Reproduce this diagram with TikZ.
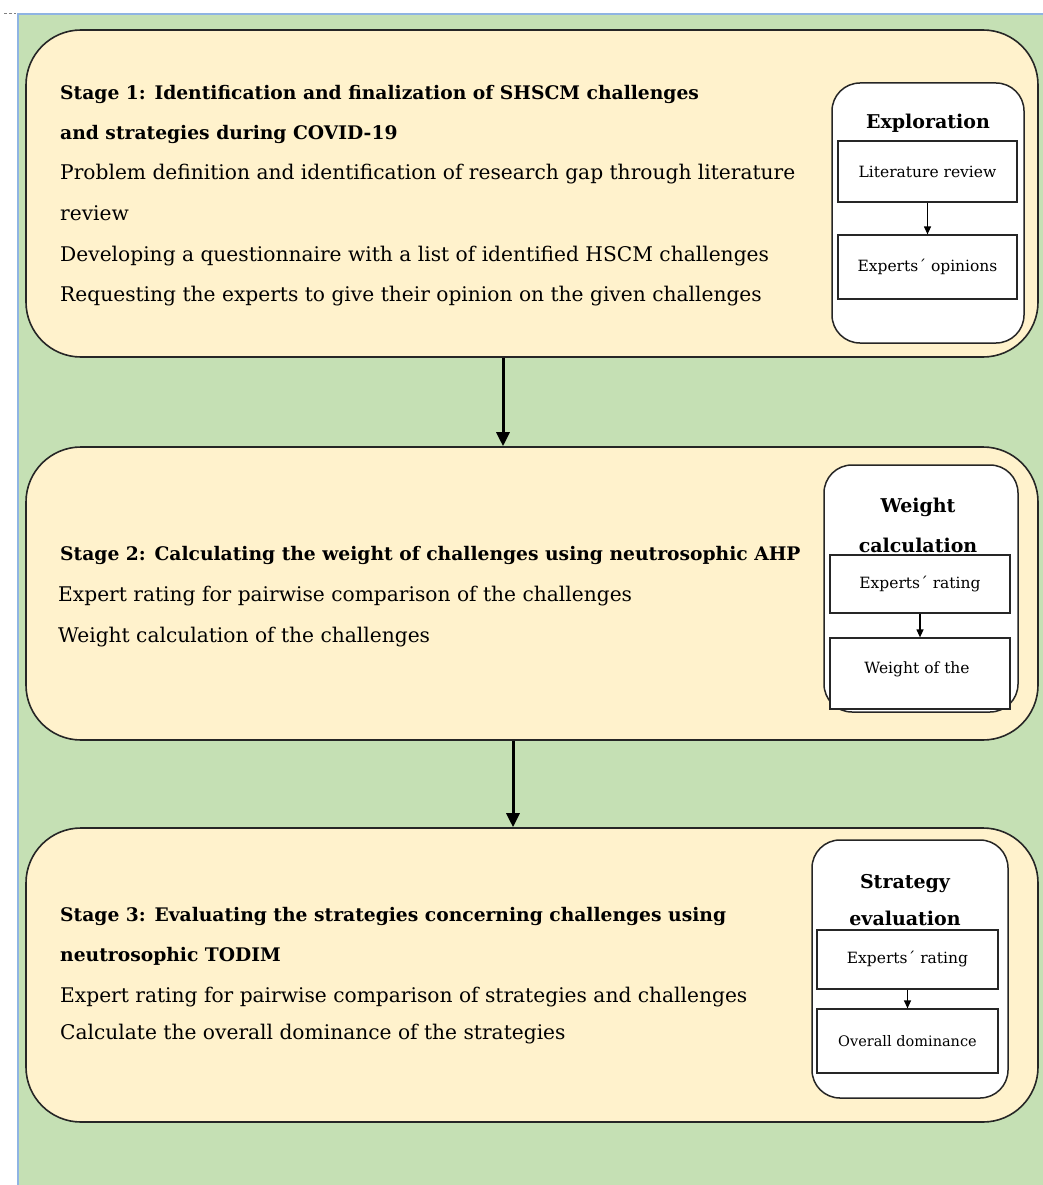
\documentclass[tikz,border=0pt]{standalone}
\usepackage{fontspec}
\setmainfont{DejaVu Serif}
\usetikzlibrary{arrows.meta,calc}
\definecolor{bggreen}{RGB}{197,224,180}
\definecolor{cream}{RGB}{255,242,204}
\definecolor{edgeblue}{RGB}{143,180,227}
\tikzset{
  stagebox/.style={draw=black!85, line width=1.6pt, fill=cream, rounded corners=55pt, minimum width=1012pt, inner sep=0pt},
  sidebox/.style={draw=black!85, line width=1.5pt, fill=white, rounded corners=28pt, inner sep=0pt},
  stepbox/.style={draw=black!85, line width=1.2pt, fill=white, inner sep=0pt, font=\fontsize{15.5}{18}\selectfont},
  bigarrow/.style={line width=3pt, -{Triangle[length=14pt,width=13pt]}},
  smallarrow/.style={line width=1.2pt, -{Triangle[length=8pt,width=7pt]}},
  headtxt/.style={anchor=base west, inner sep=0pt, font=\fontsize{18.7}{25}\selectfont\bfseries},
  bodytxt/.style={anchor=base west, inner sep=0pt, font=\fontsize{20.2}{25}\selectfont},
  sidetitle/.style={anchor=base, inner sep=0pt, font=\fontsize{19}{25}\selectfont\bfseries},
}
\begin{document}
\begin{tikzpicture}[x=1pt,y=-1pt]
\useasboundingbox (0,0) rectangle (1043,1185);
\fill[bggreen] (18,14) rectangle (1043,1185);
\draw[edgeblue, line width=1.5pt] (18,1185) -- (18,14) -- (1043,14);
\draw[gray, line width=1pt, dash pattern=on 3pt off 2pt] (4,14) -- (16,14);

% stage boxes
\node[stagebox, minimum height=327pt] (s1) at (532,193.5) {};
\node[stagebox, minimum height=293pt] (s2) at (532,593.5) {};
\node[stagebox, minimum height=294pt] (s3) at (532,975) {};

\coordinate (a1) at (503,0);
\coordinate (a2) at (513,0);
\draw[bigarrow] (a1 |- s1.south) -- (a1 |- s2.north);
\draw[bigarrow] (a2 |- s2.south) -- (a2 |- s3.north);

% stage 1 text
\node[headtxt] (t11) at (60,100) {Stage 1: Identification and finalization of SHSCM challenges};
\node[headtxt] (t12) at (60,140) {and strategies during COVID-19};
\node[bodytxt] (t13) at (60,180) {Problem definition and identification of research gap through literature};
\node[bodytxt] (t14) at (60,220) {review};
\node[bodytxt] (t15) at (60,261) {Developing a questionnaire with a list of identified HSCM challenges};
\node[bodytxt] (t16) at (60,301) {Requesting the experts to give their opinion on the given challenges};

% stage 2 text
\node[headtxt] (t21) at (60,560) {Stage 2: Calculating the weight of challenges using neutrosophic AHP};
\node[bodytxt] (t22) at (58,601) {Expert rating for pairwise comparison of the challenges};
\node[bodytxt] (t23) at (58,642) {Weight calculation of the challenges};

% stage 3 text
\node[headtxt] (t31) at (60,921) {Stage 3: Evaluating the strategies concerning challenges using};
\node[headtxt] (t32) at (60,961) {neutrosophic TODIM};
\node[bodytxt] (t33) at (60,1002) {Expert rating for pairwise comparison of strategies and challenges};
\node[bodytxt] (t34) at (60,1039) {Calculate the overall dominance of the strategies};

% exploration
\node[sidebox, minimum width=192pt, minimum height=260pt] (e0) at (928,213) {};
\node[sidetitle] (et) at (928,129) {Exploration};
\node[stepbox, minimum width=179pt, minimum height=61pt] (e1) at (927.5,171.5) {Literature review};
\node[stepbox, minimum width=179pt, minimum height=64pt] (e2) at (927.5,267) {Experts´ opinions};
\draw[smallarrow] (e1.south) -- (e2.north);

% weight calculation
\node[sidebox, minimum width=194pt, minimum height=247pt] (w0) at (921,588.5) {};
\node[sidetitle] (wt1) at (918,512) {Weight};
\node[sidetitle] (wt2) at (918,552) {calculation};
\node[stepbox, minimum width=180pt, minimum height=58pt] (w1) at (920,584) {Experts´ rating};
\node[stepbox, minimum width=180pt, minimum height=71pt] (w2) at (920,673.5) {};
\node[inner sep=0pt, anchor=base, font=\fontsize{15.5}{18}\selectfont] (w2t) at (917,673) {Weight of the};
\draw[smallarrow] (w1.south) -- (w2.north);

% strategy evaluation
\node[sidebox, minimum width=196pt, minimum height=258pt] (v0) at (910,969) {};
\node[sidetitle] (vt1) at (905,888) {Strategy};
\node[sidetitle] (vt2) at (905,925) {evaluation};
\node[stepbox, minimum width=181pt, minimum height=59pt] (v1) at (907.5,959.5) {Experts´ rating};
\node[stepbox, minimum width=181pt, minimum height=64pt, font=\fontsize{14.5}{17}\selectfont] (v2) at (907.5,1041) {Overall dominance};
\draw[smallarrow] (v1.south) -- (v2.north);
\end{tikzpicture}
\end{document}
